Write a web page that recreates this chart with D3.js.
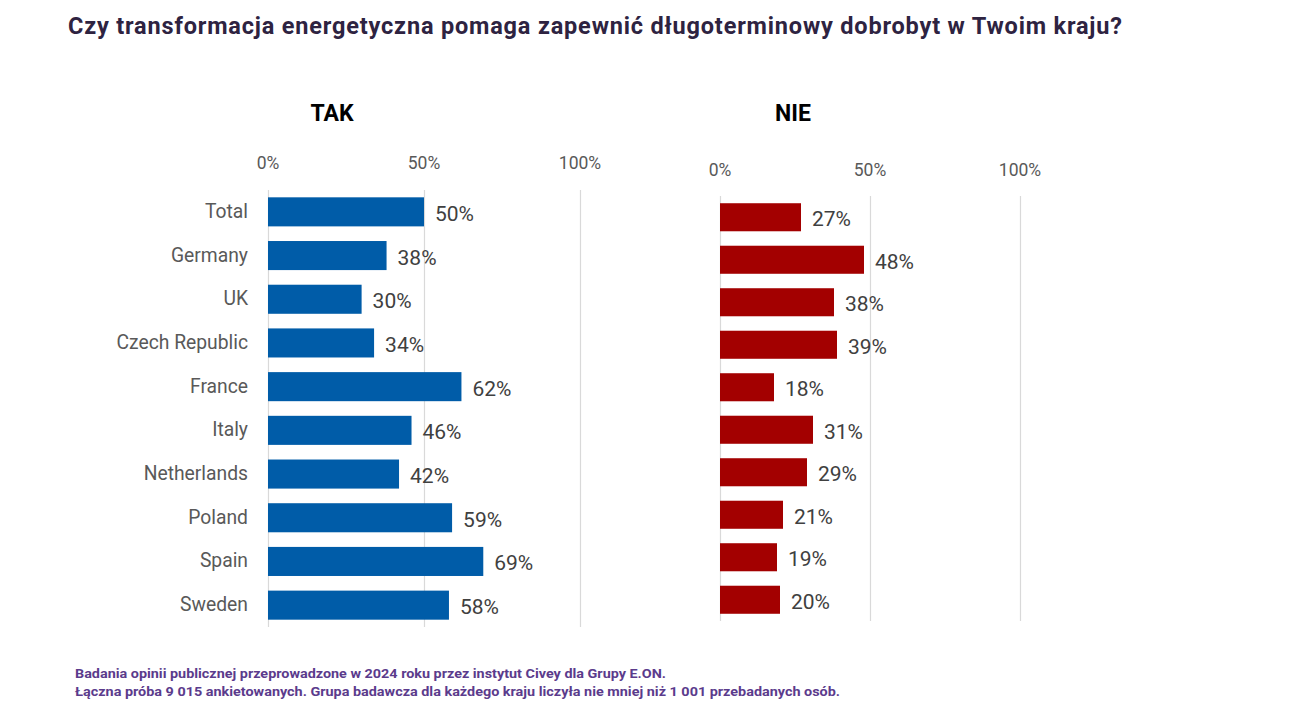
<!DOCTYPE html>
<html>
<head>
<meta charset="utf-8">
<script src="https://cdn.jsdelivr.net/npm/d3@7"></script>
<style>
  body { margin: 0; background: #fff; }
  svg { font-family: Roboto, "Noto Sans", sans-serif; }
</style>
</head>
<body>
<div id="chart"></div>
<script>
const countries = ["Total", "Germany", "UK", "Czech Republic", "France", "Italy", "Netherlands", "Poland", "Spain", "Sweden"];
const takValues = [50, 38, 30, 34, 62, 46, 42, 59, 69, 58];
const nieValues = [27, 48, 38, 39, 18, 31, 29, 21, 19, 20];
const tickValues = [0, 50, 100];

const width = 1300, height = 726;

const svg = d3.select("#chart")
  .append("svg")
  .attr("width", width)
  .attr("height", height);

// title
svg.append("text")
  .attr("x", 68)
  .attr("y", 34)
  .attr("font-size", 23.5)
  .attr("font-weight", "bold")
  .attr("fill", "#2e2341")
  .attr("textLength", 1054)
  .attr("lengthAdjust", "spacing")
  .text("Czy transformacja energetyczna pomaga zapewnić długoterminowy dobrobyt w Twoim kraju?");

function drawPanel(opts) {
  const x = d3.scaleLinear().domain([0, 100]).range([opts.x0, opts.x1]);
  const y = d3.scaleBand().domain(countries).range([opts.y0, opts.y1]).paddingInner(opts.pad).paddingOuter(opts.pad / 2);

  const g = svg.append("g");

  // gridlines
  g.selectAll(".grid")
    .data(tickValues)
    .enter().append("line")
    .attr("x1", d => x(d) + 0.5)
    .attr("x2", d => x(d) + 0.5)
    .attr("y1", opts.y0)
    .attr("y2", opts.y1)
    .attr("stroke", "#d9d9d9")
    .attr("stroke-width", 1.2);

  // tick labels
  g.selectAll(".tick")
    .data(tickValues)
    .enter().append("text")
    .attr("x", d => x(d))
    .attr("y", opts.tickY)
    .attr("text-anchor", "middle")
    .attr("font-size", 17.5)
    .attr("fill", "#595959")
    .text(d => d + "%");

  // panel heading
  g.append("text")
    .attr("x", opts.headX)
    .attr("y", 121)
    .attr("text-anchor", "middle")
    .attr("font-size", 23)
    .attr("font-weight", "bold")
    .attr("fill", "#000")
    .text(opts.head);

  // bars
  g.selectAll(".bar")
    .data(opts.values)
    .enter().append("rect")
    .attr("x", x(0))
    .attr("y", (d, i) => y(countries[i]))
    .attr("width", d => x(d) - x(0))
    .attr("height", y.bandwidth())
    .attr("fill", opts.color);

  // value labels
  g.selectAll(".val")
    .data(opts.values)
    .enter().append("text")
    .attr("x", d => x(d) + 11)
    .attr("y", (d, i) => y(countries[i]) + y.bandwidth() / 2 + 9)
    .attr("font-size", 21)
    .attr("fill", "#404040")
    .text(d => d + "%");

  if (opts.showCats) {
    g.selectAll(".cat")
      .data(countries)
      .enter().append("text")
      .attr("x", opts.x0 - 20)
      .attr("y", d => y(d) + y.bandwidth() / 2 + 6)
      .attr("text-anchor", "end")
      .attr("font-size", 19.3)
      .attr("fill", "#595959")
      .text(d => d);
  }
}

drawPanel({
  head: "TAK", headX: 332, values: takValues, color: "#005ca8",
  x0: 268, x1: 580, y0: 190, y1: 627, pad: 0.335, tickY: 169, showCats: true
});

drawPanel({
  head: "NIE", headX: 793, values: nieValues, color: "#a30000",
  x0: 720, x1: 1020, y0: 196, y1: 621, pad: 0.34, tickY: 176, showCats: false
});

// footer
const footer = [
  { text: "Badania opinii publicznej przeprowadzone w 2024 roku przez instytut Civey dla Grupy E.ON.", len: 591 },
  { text: "Łączna próba 9 015 ankietowanych. Grupa badawcza dla każdego kraju liczyła nie mniej niż 1 001 przebadanych osób.", len: 765 }
];
svg.selectAll(".foot")
  .data(footer)
  .enter().append("text")
  .attr("x", 75)
  .attr("y", (d, i) => 678 + i * 18)
  .attr("font-size", 13)
  .attr("font-weight", "bold")
  .attr("fill", "#5b3b8c")
  .attr("textLength", d => d.len)
  .attr("lengthAdjust", "spacingAndGlyphs")
  .text(d => d.text);
</script>
</body>
</html>
